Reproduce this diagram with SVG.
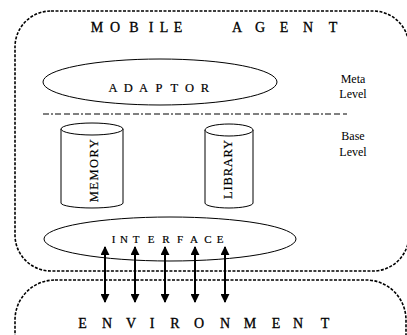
<svg xmlns="http://www.w3.org/2000/svg" width="407" height="335" viewBox="0 0 407 335">
<style>
  .box { fill: none; stroke: #000; stroke-width: 1.6; stroke-dasharray: 3 1.5; }
  .shape { fill: #fff; stroke: #000; stroke-width: 1; }
  .sep { fill: none; stroke: #000; stroke-width: 1; stroke-dasharray: 6 2 2 2 6 3 6 3; }
  .t { font-family: "Liberation Serif", "Times New Roman", serif; fill: #000; text-anchor: middle; }
  .title { font-size: 14px; stroke: #000; stroke-width: 0.3; }
  .lbl { font-size: 12px; }
  .cap { font-size: 12.5px; stroke: #000; stroke-width: 0.2; }
  .small { font-size: 11px; stroke: #000; stroke-width: 0.2; }
  .arrow { stroke: #000; stroke-width: 2; marker-start: url(#ah); marker-end: url(#ah); }
</style>
<defs>
  <marker id="ah" viewBox="0 0 10 10" refX="9" refY="5" markerWidth="9" markerHeight="9" markerUnits="userSpaceOnUse" orient="auto-start-reverse">
    <path d="M0,0 L10,5 L0,10 z" fill="#000"/>
  </marker>
</defs>
<rect width="407" height="335" fill="#fff"/>

<g id="mobile-agent">
  <rect class="box" x="15" y="11" width="394" height="260" rx="36" ry="36"/>
  <text class="t title" x="97 115 134 151 164 178 207 237 260 284 308 333" y="32">MOBILE AGENT</text>
</g>

<g id="environment">
  <rect class="box" x="15" y="280" width="391" height="100" rx="40" ry="40"/>
  <text class="t title" x="82.5 107 131 152 175 199 225 250 276 298 325" y="328">ENVIRONMENT</text>
</g>

<g id="adaptor">
  <ellipse class="shape" cx="160" cy="82" rx="117" ry="23"/>
  <text class="t cap" x="113 128.3 143.6 158.9 174.2 189.5 204.8" y="92">ADAPTOR</text>
</g>

<g id="level-separator">
  <line class="sep" x1="43" y1="114" x2="347" y2="114"/>
</g>

<g id="meta-level">
  <text class="t lbl" x="353" y="83">Meta</text>
  <text class="t lbl" x="353" y="98">Level</text>
</g>

<g id="base-level">
  <text class="t lbl" x="353" y="140">Base</text>
  <text class="t lbl" x="353" y="156">Level</text>
</g>

<g id="memory">
  <path class="shape" d="M61,129 L61,203 A31,5 0 0 0 123,203 L123,129"/>
  <ellipse class="shape" cx="92" cy="129" rx="31" ry="6"/>
  <text class="t cap" x="98" y="170" letter-spacing="1.5" transform="rotate(-90 98 170)">MEMORY</text>
</g>

<g id="library">
  <path class="shape" d="M205,130 L205,203 A24,5 0 0 0 253,203 L253,130"/>
  <ellipse class="shape" cx="229" cy="130" rx="24" ry="6"/>
  <text class="t cap" x="232" y="169" letter-spacing="0.8" transform="rotate(-90 232 169)">LIBRARY</text>
</g>

<g id="interface">
  <ellipse class="shape" cx="170" cy="239" rx="126" ry="22"/>
  <text class="t small" x="113.5 124 136 151 166 180 194 208 220" y="243">INTERFACE</text>
</g>

<g id="connectors">
  <line class="arrow" x1="105" y1="247" x2="105" y2="302"/>
  <line class="arrow" x1="135" y1="247" x2="135" y2="302"/>
  <line class="arrow" x1="165" y1="247" x2="165" y2="302"/>
  <line class="arrow" x1="195" y1="247" x2="195" y2="302"/>
  <line class="arrow" x1="225" y1="247" x2="225" y2="302"/>
</g>
</svg>
